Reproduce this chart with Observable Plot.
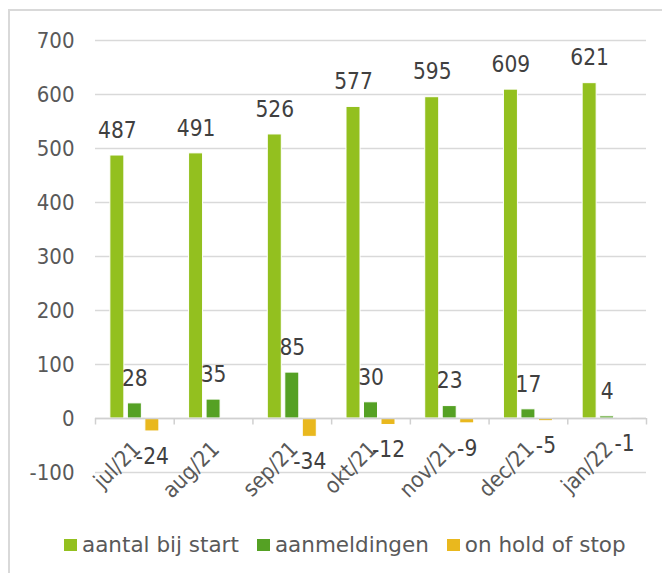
<!DOCTYPE html>
<html>
<head>
<meta charset="utf-8">
<script src="https://cdn.jsdelivr.net/npm/d3@7"></script>
<script src="https://cdn.jsdelivr.net/npm/@observablehq/plot@0.6"></script>
<style>
  html, body { margin: 0; padding: 0; background: #fff; width: 662px; height: 573px; overflow: hidden; }
  body { position: relative; font-family: "DejaVu Sans", sans-serif; }
  #frame { position: absolute; left: 8px; top: 9px; width: 700px; height: 620px; border: 2px solid #d9d9d9; box-sizing: border-box; }
  #chart { position: absolute; left: 0; top: 0; }
  #legend { position: absolute; left: 64px; top: 531px; display: flex; font-size: 21.5px; line-height: 28px; color: #595959; white-space: nowrap; }
  #legend .item { display: flex; align-items: center; margin-right: 18px; }
  #legend .sw { width: 13px; height: 12px; display: inline-block; margin-right: 5px; }
</style>
</head>
<body>
<div id="frame"></div>
<div id="chart"></div>
<div id="legend"></div>
<script>
const months = ["jul/21", "aug/21", "sep/21", "okt/21", "nov/21", "dec/21", "jan/22"];
const seriesNames = ["aantal bij start", "aanmeldingen", "on hold of stop"];
const seriesColors = ["#93c01f", "#55a124", "#e9b81e"];
const aantalBijStart = [487, 491, 526, 577, 595, 609, 621];
const aanmeldingen = [28, 35, 85, 30, 23, 17, 4];
const onHoldOfStop = [-24, null, -34, -12, -9, -5, -1];
const yTicks = [-100, 0, 100, 200, 300, 400, 500, 600, 700];

const seriesValues = [aantalBijStart, aanmeldingen, onHoldOfStop];
const data = [];
seriesNames.forEach((s, si) => {
  months.forEach((m, mi) => {
    const v = seriesValues[si][mi];
    if (v !== null) data.push({month: m, series: s, si, value: v});
  });
});

const width = 662, height = 510;
const marginLeft = 95, marginRight = 16, marginTop = 40, marginBottom = 38;
const step = (width - marginLeft - marginRight) / months.length;
const barW = 14, gap = 3.5;
const groupW = 3 * barW + 2 * gap;
const outer = (step - groupW) / 2;
const insetL = i => outer + i * (barW + gap);
const insetR = i => step - insetL(i) - barW;
const offset = i => (i - 1) * (barW + gap);
const labelFont = '"DejaVu Sans Condensed", "DejaVu Sans", sans-serif';

const marks = [
  Plot.gridY(yTicks, {stroke: "#d9d9d9", strokeOpacity: 1, strokeWidth: 1.5}),
  Plot.axisY(yTicks, {tickSize: 0, tickPadding: 21, fontSize: 22, fill: "#595959", label: null, fontFamily: labelFont, tickFormat: d => String(d)}),
  Plot.axisX({tickSize: 0, tickPadding: 0, tickRotate: -45, fontSize: 22, fill: "#595959", dx: 2, dy: -27, label: null, fontFamily: labelFont}),
];
seriesNames.forEach((s, si) => {
  const d = data.filter(r => r.si === si);
  marks.push(Plot.barY(d, {x: "month", y: "value", fill: seriesColors[si], stroke: "#fff", strokeWidth: 1, insetLeft: insetL(si), insetRight: insetR(si)}));
});
marks.push(Plot.ruleY([0], {stroke: "#d0d0d0", strokeWidth: 1.5}));
// category boundary tick marks below the zero line
marks.push(Plot.ruleX(months, {x: d => d, dx: -step / 2, y1: 0, y2: -12, stroke: "#d0d0d0", strokeWidth: 1.5}));
marks.push(Plot.ruleX([months[months.length - 1]], {x: d => d, dx: step / 2, y1: 0, y2: -12, stroke: "#d0d0d0", strokeWidth: 1.5}));
seriesNames.forEach((s, si) => {
  const pos = data.filter(r => r.si === si && r.value >= 0);
  const neg = data.filter(r => r.si === si && r.value < 0);
  marks.push(Plot.text(pos, {x: "month", y: "value", text: r => String(r.value), dx: offset(si), dy: -25, lineAnchor: "middle", fontSize: 22.5, fill: "#404040", fontFamily: labelFont}));
  marks.push(Plot.text(neg, {x: "month", y: "value", text: r => String(r.value), dx: offset(si), dy: 25, lineAnchor: "middle", fontSize: 22.5, fill: "#404040", fontFamily: labelFont}));
});

const chart = Plot.plot({
  width, height, marginLeft, marginRight, marginTop, marginBottom,
  style: {fontFamily: labelFont, background: "transparent", overflow: "visible"},
  x: {type: "band", domain: months, padding: 0, round: false},
  y: {domain: [-100, 700]},
  marks
});
document.getElementById("chart").appendChild(chart);

const legend = document.getElementById("legend");
seriesNames.forEach((s, si) => {
  const item = document.createElement("div");
  item.className = "item";
  item.innerHTML = `<span class="sw" style="background:${seriesColors[si]}"></span><span>${s}</span>`;
  legend.appendChild(item);
});
</script>
</body>
</html>
